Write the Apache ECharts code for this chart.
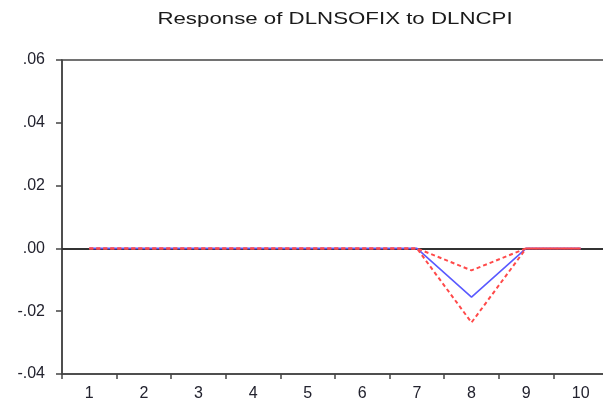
<!DOCTYPE html>
<html><head><meta charset="utf-8">
<script src="https://cdn.jsdelivr.net/npm/echarts@6/dist/echarts.min.js"></script>
<style>html,body{margin:0;padding:0;background:#fff}#c{width:603px;height:401px}</style>
</head><body><div id="c"></div>
<script>
const categories = ['1','2','3','4','5','6','7','8','9','10'];
const response = [0,0,0,0,0,0,0,-0.0155,0,0];
const upperBand = [0,0,0,0,0,0,0,-0.0070,0,0];
const lowerBand = [0,0,0,0,0,0,0,-0.0236,0,0];
const yTicks = {min:-0.04, max:0.06, interval:0.02};
const titleText = 'Response of DLNSOFIX to DLNCPI';

const chart = echarts.init(document.getElementById('c'));
function fmt(v){
  if (Math.abs(v) < 1e-9) return '.00';
  const s = Math.abs(v).toFixed(2).replace(/^0/, '');
  return (v < 0 ? '-' : '') + s;
}
const lblFont = {color:'#22222e', fontFamily:'Liberation Sans, Arial', fontSize:16};
chart.setOption({
  animation:false,
  backgroundColor:'#fff',
  graphic:[{type:'text', x:335, y:19, scaleX:1.31, originX:0, originY:0,
    style:{text:titleText, fill:'#1a1a1a', font:'17px "Liberation Sans", Arial', textAlign:'center', textVerticalAlign:'middle'}}],
  grid:{left:62, top:60, width:546, bottom:27, outerBoundsMode:'none', containLabel:false,
    show:true, borderColor:'#444', borderWidth:1.5, backgroundColor:'transparent'},
  xAxis:[
    {type:'category', data:categories, boundaryGap:true, position:'bottom',
      axisLine:{onZero:false, lineStyle:{color:'#444', width:1.5}},
      axisTick:{show:true, length:5, lineStyle:{color:'#444', width:1.5}},
      axisLabel:Object.assign({margin:12}, lblFont),
      splitLine:{show:false}},
    {type:'category', data:categories, boundaryGap:true, position:'top',
      axisLine:{show:true, onZero:true, onZeroAxisIndex:0, lineStyle:{color:'#333', width:1.8}},
      axisTick:{show:false}, axisLabel:{show:false}, splitLine:{show:false}}
  ],
  yAxis:{type:'value', min:yTicks.min, max:yTicks.max, interval:yTicks.interval,
    axisLine:{show:true, lineStyle:{color:'#444', width:1.5}},
    axisTick:{show:true, length:6, lineStyle:{color:'#444', width:1.5}},
    axisLabel:Object.assign({margin:17, formatter:fmt}, lblFont),
    splitLine:{show:false}},
  series:[
    {type:'line', data:response, symbol:'none', lineStyle:{color:'#5a5aff', width:1.6}, z:3},
    {type:'line', data:upperBand, symbol:'none', lineStyle:{color:'#ff4a4a', width:2, type:[4,3]}, z:4},
    {type:'line', data:lowerBand, symbol:'none', lineStyle:{color:'#ff4a4a', width:2, type:[4,3]}, z:4}
  ]
});
</script></body></html>
